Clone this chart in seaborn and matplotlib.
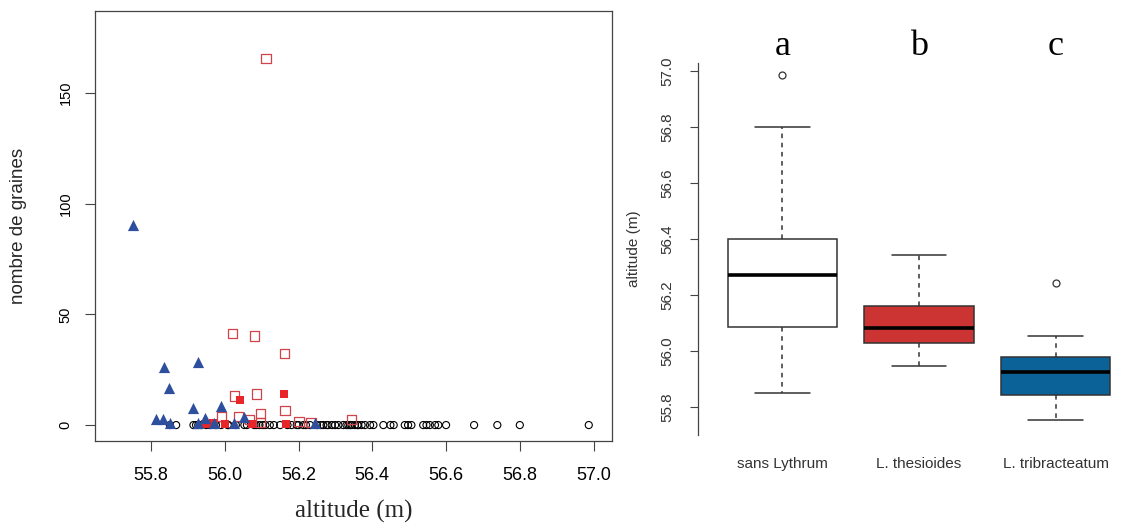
import numpy as np
import pandas as pd
import matplotlib
matplotlib.use("Agg")
import matplotlib.pyplot as plt
import seaborn as sns

# --- data ---
# sans Lythrum : seeds = 0 everywhere (open circles)
alt_sans = [55.851, 55.868, 55.915, 55.922, 55.928, 55.935, 55.95, 55.96, 55.976, 55.99,
            56.008, 56.01, 56.03, 56.053, 56.06, 56.08, 56.085, 56.094, 56.103, 56.11,
            56.122, 56.133, 56.15, 56.17, 56.181, 56.195, 56.2, 56.213, 56.22, 56.231,
            56.25, 56.26, 56.267, 56.276, 56.28, 56.29, 56.299, 56.308, 56.321, 56.33,
            56.335, 56.34, 56.344, 56.353, 56.36, 56.362, 56.371, 56.38, 56.394, 56.403,
            56.43, 56.449, 56.458, 56.488, 56.497, 56.506, 56.538, 56.547, 56.556, 56.57,
            56.579, 56.6, 56.676, 56.739, 56.8, 56.987]
seeds_sans = [0] * len(alt_sans)

# L. thesioides, open squares
alt_thes_open = [56.112, 56.02, 56.08, 56.161, 56.027, 56.086, 56.163, 56.096, 55.99,
                 56.038, 56.066, 56.201, 56.234, 56.343, 56.097]
seeds_thes_open = [165.6, 41.4, 40.2, 32.4, 13.1, 14, 6.5, 5.3, 4, 4, 2.6, 1.5, 1.0, 2.6, 1.0]
# L. thesioides, filled squares
alt_thes_fill = [56.04, 56.16, 55.969, 56.0, 56.075, 56.166, 55.946]
seeds_thes_fill = [11.3, 14, 1.0, 0.5, 0.5, 0.5, 0.5]

# L. tribracteatum, filled triangles
alt_trib = [55.752, 55.836, 55.927, 55.848, 55.915, 55.99, 55.813, 55.833, 55.851,
            55.928, 55.946, 55.971, 56.025, 56.053, 56.244]
seeds_trib = [90.3, 26.3, 28.3, 16.6, 7.5, 8.6, 2.6, 2.6, 1.0, 1.0, 3.1, 1.0, 1.0, 3.5, 1.0]

groups = ["sans Lythrum", "L. thesioides", "L. tribracteatum"]
letters = ["a", "b", "c"]
box_colors = ["white", "#CC3333", "#0B6298"]

sns.set_style("white")
plt.rcParams["font.family"] = ["Liberation Sans", "DejaVu Sans"]

fig = plt.figure(figsize=(11.25, 5.24), dpi=100)

# ---------------- left: scatter ----------------
ax1 = fig.add_axes([95 / 1125, 1 - 441 / 524, 517 / 1125, 430 / 524])

sns.scatterplot(x=alt_sans, y=seeds_sans, ax=ax1, marker="o", s=26,
                color="black", facecolor="none", edgecolor="black", linewidth=0.8)
sns.scatterplot(x=alt_thes_open, y=seeds_thes_open, ax=ax1, marker="s", s=44,
                color="#D0434A", facecolor="none", edgecolor="#D0434A", linewidth=0.9)
sns.scatterplot(x=alt_thes_fill, y=seeds_thes_fill, ax=ax1, marker="s", s=38,
                color="#E8262A", edgecolor="#E8262A", linewidth=0)
sns.scatterplot(x=alt_trib, y=seeds_trib, ax=ax1, marker="^", s=65,
                color="#2E4E9E", edgecolor="#2E4E9E", linewidth=0)

ax1.set_xlim(55.648, 57.05)
ax1.set_ylim(-7.2, 187)
ax1.set_xticks([55.8, 56.0, 56.2, 56.4, 56.6, 56.8, 57.0])
ax1.set_xticklabels(["55.8", "56.0", "56.2", "56.4", "56.6", "56.8", "57.0"], fontsize=13)
ax1.set_yticks([0, 50, 100, 150])
ax1.set_yticklabels(["0", "50", "100", "150"], fontsize=10.5, rotation=90, va="center")
ax1.tick_params(axis="both", direction="out", length=7, width=0.8, color="#444444",
                labelcolor="black", left=True, bottom=True)
ax1.tick_params(axis="x", pad=12)
ax1.tick_params(axis="y", pad=9)
for sp in ax1.spines.values():
    sp.set_visible(True)
    sp.set_color("#444444")
    sp.set_linewidth(0.9)
ax1.set_xlabel("altitude (m)", fontsize=18, family=["Liberation Serif", "DejaVu Serif"])
ax1.xaxis.set_label_coords(0.5, -0.137)
ax1.set_ylabel("nombre de graines", fontsize=13.5)
ax1.yaxis.set_label_coords(-0.132, 0.5)

# ---------------- right: boxplot ----------------
ax2 = fig.add_axes([698 / 1125, 1 - 435 / 524, 422 / 1125, 372 / 524])

df = pd.DataFrame({
    "groupe": [groups[0]] * len(alt_sans)
              + [groups[1]] * (len(alt_thes_open) + len(alt_thes_fill))
              + [groups[2]] * len(alt_trib),
    "altitude": alt_sans + alt_thes_open + alt_thes_fill + alt_trib,
})

sns.boxplot(data=df, x="groupe", y="altitude", hue="groupe", order=groups,
            hue_order=groups, palette=box_colors, saturation=1, legend=False, ax=ax2,
            width=0.8, linecolor="#333333", linewidth=1.1, whis=1.5,
            whiskerprops={"linestyle": (0, (3, 3))},
            medianprops={"color": "black", "linewidth": 2.6},
            flierprops={"marker": "o", "markersize": 5, "markerfacecolor": "none",
                        "markeredgecolor": "#333333", "markeredgewidth": 0.9})

ax2.set_xlim(-0.618, 2.47)
ax2.set_ylim(55.70, 57.03)
ax2.set_yticks([55.8, 56.0, 56.2, 56.4, 56.6, 56.8, 57.0])
ax2.set_yticklabels(["55.8", "56.0", "56.2", "56.4", "56.6", "56.8", "57.0"],
                    fontsize=11, rotation=90, va="center")
ax2.tick_params(axis="y", direction="out", length=6, width=0.8, color="#444444",
                labelcolor="#333333", left=True, pad=11)
ax2.tick_params(axis="x", length=0, labelsize=11, labelcolor="#333333", pad=16)
for side in ["top", "right", "bottom"]:
    ax2.spines[side].set_visible(False)
ax2.spines["left"].set_color("#444444")
ax2.spines["left"].set_linewidth(0.9)
ax2.set_xlabel("")
ax2.set_ylabel("altitude (m)", fontsize=11, color="#333333")
ax2.yaxis.set_label_coords(-0.136, 0.5)

for i, lab in enumerate(letters):
    ax2.text(i, 1.022, lab, transform=ax2.get_xaxis_transform(), ha="center",
             va="baseline", fontsize=26, family=["Liberation Serif", "DejaVu Serif"],
             color="black")

fig.savefig("out.png", dpi=100)
